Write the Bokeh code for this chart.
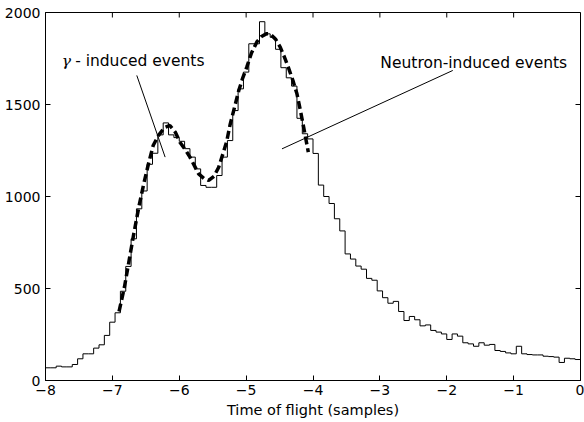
import numpy as np
from bokeh.plotting import figure
from bokeh.models import Range1d, FixedTicker
from bokeh.core.properties import value
from bokeh.embed import file_html
from bokeh.resources import INLINE

# ---- data -------------------------------------------------------------
bin_start = -8.0
bin_width = 0.08
counts = [69, 69, 78, 74, 74, 87, 118, 145, 145, 176,
          194, 245, 317, 368, 485, 620, 770, 933, 1030, 1175,
          1235, 1335, 1400, 1335, 1320, 1300, 1260, 1214, 1150, 1060,
          1050, 1050, 1114, 1214, 1304, 1467, 1585, 1676, 1830, 1830,
          1950, 1884, 1865, 1800, 1700, 1645, 1600, 1425, 1341, 1313,
          1234, 1062, 1000, 962, 879, 813, 688, 660, 622, 605,
          555, 545, 487, 450, 420, 430, 375, 326, 348, 330,
          297, 302, 272, 263, 253, 223, 253, 241, 205, 199,
          186, 205, 192, 196, 163, 158, 150, 145, 186, 145,
          141, 139, 139, 132, 130, 127, 98, 121, 118, 114]

fit_x = [-6.90, -6.82, -6.75, -6.68, -6.60, -6.53, -6.46, -6.39, -6.31, -6.22,
         -6.14, -6.06, -5.99, -5.91, -5.84, -5.77, -5.71, -5.63, -5.56, -5.48,
         -5.41, -5.34, -5.29, -5.24, -5.17, -5.11, -5.05, -4.99, -4.92, -4.84,
         -4.77, -4.70, -4.64, -4.56, -4.49, -4.43, -4.37, -4.30, -4.24, -4.19,
         -4.14, -4.07]
fit_y = [375, 507, 652, 797, 951, 1070, 1178, 1277, 1332, 1375,
         1386, 1350, 1295, 1255, 1214, 1165, 1123, 1098, 1087, 1110,
         1159, 1240, 1300, 1390, 1490, 1576, 1645, 1703, 1780, 1840,
         1870, 1884, 1884, 1855, 1812, 1760, 1703, 1630, 1558, 1470,
         1377, 1241]

gamma_label = "- induced events"
gamma_symbol = "γ"
gamma_symbol_pos = (-7.757, 1734)
gamma_label_pos = (-7.557, 1734)
gamma_line_x = [-6.635, -6.211]
gamma_line_y = [1658, 1214]

neutron_label = "Neutron-induced events"
neutron_label_pos = (-2.993, 1728)
neutron_line_x = [-4.464, -1.910]
neutron_line_y = [1259, 1685]

x_ticks = [-8, -7, -6, -5, -4, -3, -2, -1, 0]
x_tick_labels = ["−8", "−7", "−6", "−5", "−4", "−3", "−2", "−1", "0"]
y_ticks = [0, 500, 1000, 1500, 2000]
x_label = "Time of flight (samples)"
x_min, x_max = -8, 0
y_min, y_max = 0, 2000

# ---- figure -----------------------------------------------------------
p = figure(width=584, height=422, output_backend="svg", toolbar_location=None,
           x_range=Range1d(x_min, x_max), y_range=Range1d(y_min, y_max),
           min_border_left=45, min_border_right=4, min_border_top=12,
           min_border_bottom=42)
p.background_fill_color = "white"
p.border_fill_color = "white"
p.outline_line_color = "black"
p.outline_line_width = 1
p.xgrid.visible = False
p.ygrid.visible = False

# step histogram built from the bin counts
edges = bin_start + bin_width * np.arange(len(counts) + 1)
hx = np.concatenate([[edges[0]], np.repeat(edges, 2)[1:-1], [edges[-1]]])
hy = np.concatenate([[0], np.repeat(counts, 2), [0]])
p.line(hx, hy, line_color="black", line_width=1)

# dashed fit
p.line(fit_x, fit_y, line_color="black", line_width=3.5, line_dash="8 4")

# annotations
p.line(gamma_line_x, gamma_line_y, line_color="black", line_width=1)
p.line(neutron_line_x, neutron_line_y, line_color="black", line_width=1)

p.text(x=[gamma_symbol_pos[0]], y=[gamma_symbol_pos[1]], text=[gamma_symbol],
       text_font=value("DejaVu Serif"), text_font_style="italic",
       text_font_size="15.5px", text_baseline="middle", text_align="left",
       text_color="black")
p.text(x=[gamma_label_pos[0]], y=[gamma_label_pos[1]], text=[gamma_label],
       text_font=value("DejaVu Sans"), text_font_size="15.5px",
       text_baseline="middle", text_align="left", text_color="black")
p.text(x=[neutron_label_pos[0]], y=[neutron_label_pos[1]], text=[neutron_label],
       text_font=value("DejaVu Sans"), text_font_size="15.5px",
       text_baseline="middle", text_align="left", text_color="black")

# inward ticks on the top and right edges
p.ray(x=x_ticks, y=[y_max] * len(x_ticks), length=5, length_units="screen",
      angle=-np.pi / 2, line_color="black", line_width=1)
p.ray(x=[x_max] * len(y_ticks), y=y_ticks, length=5, length_units="screen",
      angle=np.pi, line_color="black", line_width=1)

# axes
def style_axis(ax):
    ax.major_tick_in = 5
    ax.major_tick_out = 0
    ax.minor_tick_line_color = None
    ax.axis_line_color = "black"
    ax.major_tick_line_color = "black"
    ax.major_label_text_font = "DejaVu Sans"
    ax.major_label_text_color = "black"
    ax.major_label_text_font_size = "14px"

xa = p.xaxis[0]
xa.ticker = FixedTicker(ticks=x_ticks)
xa.major_label_overrides = {t: l for t, l in zip(x_ticks, x_tick_labels)}
style_axis(xa)
xa.major_label_standoff = 4
xa.axis_label = x_label
xa.axis_label_text_font = "DejaVu Sans"
xa.axis_label_text_font_size = "14.5px"
xa.axis_label_text_font_style = "normal"
xa.axis_label_text_color = "black"
xa.axis_label_standoff = 4

ya = p.yaxis[0]
ya.ticker = FixedTicker(ticks=y_ticks)
style_axis(ya)
ya.major_label_standoff = 5

open("out.html", "w").write(file_html(p, INLINE))
